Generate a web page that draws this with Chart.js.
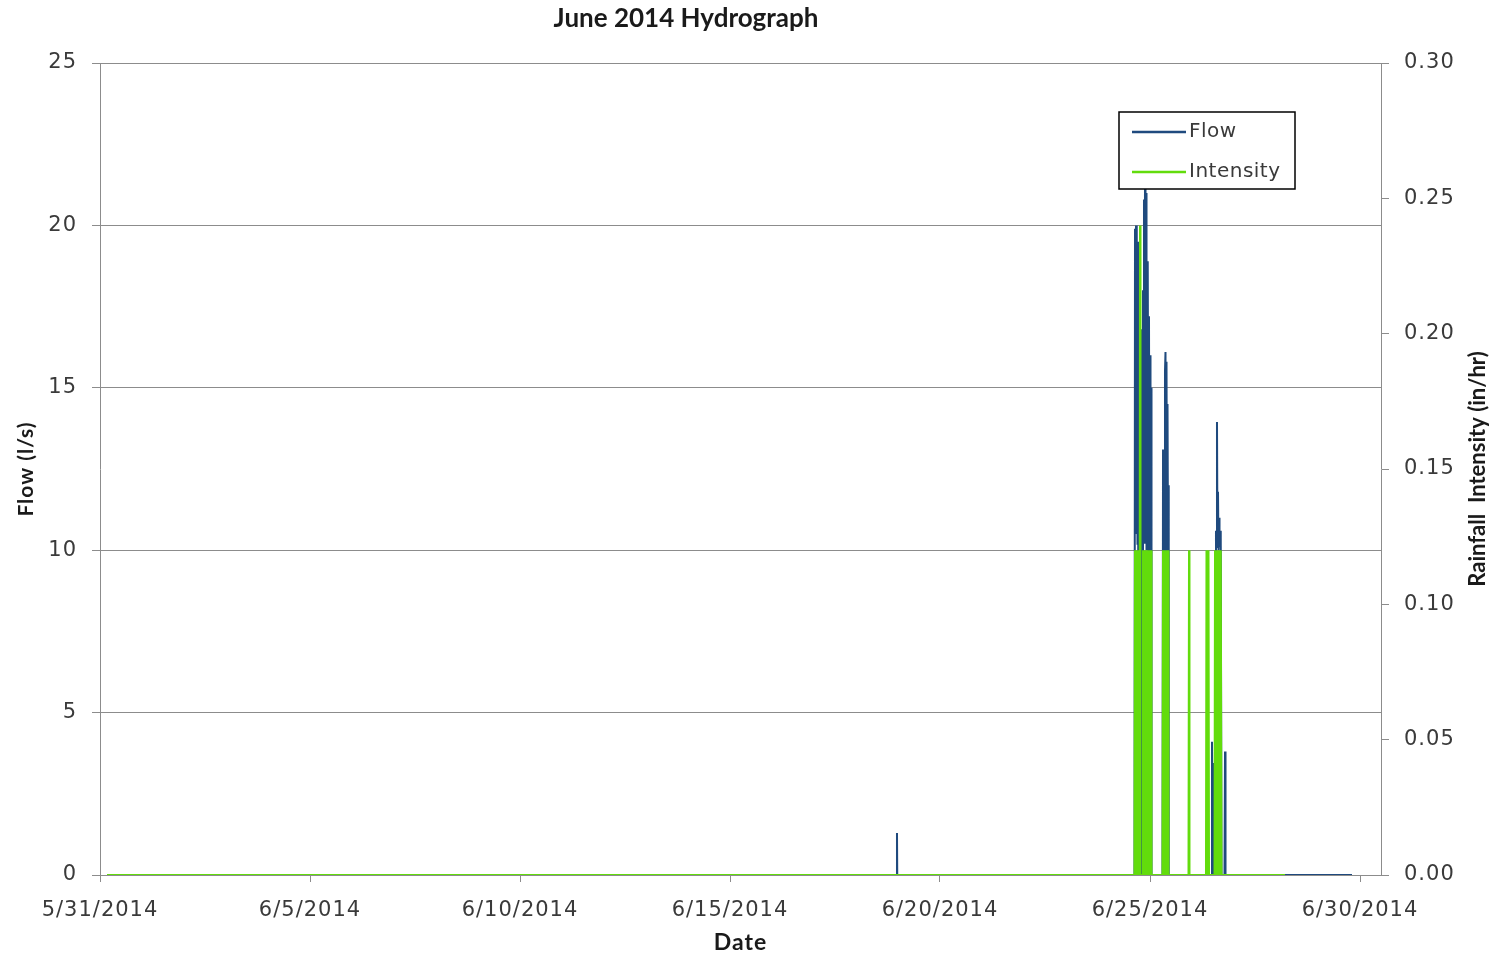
<!DOCTYPE html>
<html>
<head>
<meta charset="utf-8">
<title>June 2014 Hydrograph</title>
<script src="https://cdn.jsdelivr.net/npm/chart.js@4.4.1/dist/chart.umd.min.js"></script>
<style>
  html, body { margin: 0; padding: 0; background: #ffffff; }
  #wrap { width: 1494px; height: 956px; position: relative; }
</style>
</head>
<body>
<div id="wrap"><canvas id="hydro"></canvas></div>
<script>
// Date axis labels, one every five days starting 5/31/2014
const tickLabels = ['5/31/2014', '6/5/2014', '6/10/2014', '6/15/2014', '6/20/2014', '6/25/2014', '6/30/2014'];

// Flow record: time in days after 5/31/2014 00:00, flow in l/s
const flowDays = [
  0.167,
  18.970, 18.976, 18.982,
  24.631, 24.643, 24.655, 24.667, 24.679, 24.690, 24.702, 24.714, 24.726,
  24.774, 24.786, 24.798,
  24.821, 24.833, 24.845, 24.857, 24.869, 24.881, 24.893, 24.905, 24.917, 24.929,
  24.940, 24.952, 24.964, 24.976, 24.988, 25.000, 25.012, 25.024, 25.036,
  25.298, 25.310, 25.321, 25.333, 25.345, 25.357, 25.369, 25.381, 25.393, 25.405,
  25.417, 25.429, 25.440, 25.452,
  26.464, 26.476, 26.488, 26.500, 26.512,
  26.560, 26.571, 26.583, 26.595, 26.607, 26.619, 26.631, 26.643, 26.655, 26.667,
  26.679, 26.690, 26.702,
  26.774, 26.786, 26.798,
  29.810
];
const flowLps = [
  0,
  0, 1.29, 0,
  0, 19.9, 11.0, 20.0, 10.5, 19.8, 10.2, 19.5, 0,
  0, 16.8, 0,
  0, 18.0, 10.5, 20.8, 10.2, 21.4, 10.5, 21.0, 10.0, 18.6,
  10.2, 18.9, 10.0, 17.2, 10.1, 16.0, 10.0, 15.0, 0,
  0, 13.1, 10.0, 12.8, 10.0, 15.5, 16.1, 10.2, 15.8, 10.0,
  14.5, 10.0, 12.0, 0,
  0, 4.1, 0.4, 3.45, 0,
  0, 10.6, 10.2, 13.95, 10.1, 11.8, 10.0, 11.0, 10.1, 10.6,
  10.0, 10.4, 0,
  0, 3.8, 0,
  0
];

// Rainfall record: time in days after 5/31/2014 00:00, intensity in in/hr
const intensityDays = [
  0.167,
  24.631, 24.643, 24.655, 24.667, 24.679, 24.690, 24.702, 24.714, 24.726, 24.738,
  24.750, 24.762, 24.774,
  24.821, 24.833, 24.845, 24.857, 24.869, 24.881, 24.893, 24.905, 24.917, 24.929,
  24.940, 24.952, 24.964, 24.976, 24.988, 25.000, 25.012, 25.024, 25.036,
  25.298, 25.310, 25.321, 25.333, 25.345, 25.357, 25.369, 25.381, 25.393, 25.405,
  25.417, 25.429, 25.440,
  25.917, 25.929, 25.940,
  26.333, 26.345, 26.357, 26.369, 26.381, 26.393, 26.405,
  26.536, 26.548, 26.560, 26.571, 26.583, 26.595, 26.607, 26.619, 26.631, 26.643,
  26.655, 26.667, 26.679, 26.690, 26.702,
  28.214
];
const intensityInHr = [
  0,
  0, 0.12, 0, 0.12, 0, 0.12, 0, 0.12, 0, 0.12,
  0, 0.24, 0,
  0, 0.12, 0, 0.12, 0, 0.12, 0, 0.12, 0, 0.12,
  0, 0.12, 0, 0.12, 0, 0.12, 0, 0.12, 0,
  0, 0.12, 0, 0.12, 0, 0.12, 0, 0.12, 0, 0.12,
  0, 0.12, 0,
  0, 0.12, 0,
  0, 0.12, 0, 0.12, 0, 0.12, 0,
  0, 0.12, 0, 0.12, 0, 0.12, 0, 0.12, 0, 0.12,
  0, 0.12, 0, 0.12, 0,
  0
];

const FLOW_COLOR = '#1f4a7e';
const RAIN_COLOR = '#62dc0c';
const GRID_COLOR = '#8c8c8c';
const TEXT_COLOR = '#3a3a3a';
const HEAD_COLOR = '#1a1a1a';
const TITLE_FONT = "Lato, 'Liberation Sans', sans-serif";

const toPoints = (xs, ys) => xs.map((x, i) => ({ x: x, y: ys[i] }));

Chart.defaults.font.family = "'DejaVu Sans', Verdana, sans-serif";
Chart.defaults.font.size = 21;
Chart.defaults.color = TEXT_COLOR;

// Slightly open tracking for the tick numbers
const trackingPlugin = {
  id: 'tracking',
  beforeDraw(chart) { chart.ctx.letterSpacing = '1px'; },
  afterDraw(chart) { chart.ctx.letterSpacing = '0px'; }
};

// Chart heading and the right-hand axis title (reads bottom to top)
const headingPlugin = {
  id: 'heading',
  afterDraw(chart) {
    const ctx = chart.ctx;
    const area = chart.chartArea;
    ctx.save();
    ctx.letterSpacing = '0px';
    ctx.font = 'bold 26px ' + TITLE_FONT;
    ctx.fillStyle = HEAD_COLOR;
    ctx.textAlign = 'center';
    ctx.textBaseline = 'middle';
    ctx.fillText('June 2014 Hydrograph', area.left + 586, 19);

    ctx.translate(chart.width - 16, (area.top + area.bottom) / 2);
    ctx.rotate(-Math.PI / 2);
    ctx.font = 'bold 22px ' + TITLE_FONT;
    ctx.fillText('Rainfall  Intensity (in/hr)', 0, 0);
    ctx.restore();
  }
};

// Boxed legend sitting inside the plot, over the data
const boxLegendPlugin = {
  id: 'boxLegend',
  afterDatasetsDraw(chart) {
    const ctx = chart.ctx;
    const area = chart.chartArea;
    const bx = area.left + 1019, by = area.top + 49, bw = 176, bh = 77;
    ctx.save();
    ctx.fillStyle = '#ffffff';
    ctx.fillRect(bx, by, bw, bh);
    ctx.strokeStyle = '#000000';
    ctx.lineWidth = 1.5;
    ctx.strokeRect(bx, by, bw, bh);
    ctx.font = "20px 'DejaVu Sans', Verdana, sans-serif";
    ctx.letterSpacing = '0.5px';
    ctx.textBaseline = 'middle';
    ctx.textAlign = 'left';
    [0, 1].forEach((di, row) => {
      const ds = chart.data.datasets[di];
      const y = by + 20 + row * 40;
      ctx.strokeStyle = ds.borderColor;
      ctx.lineWidth = 2.5;
      ctx.beginPath();
      ctx.moveTo(bx + 13, y);
      ctx.lineTo(bx + 67, y);
      ctx.stroke();
      ctx.fillStyle = TEXT_COLOR;
      ctx.fillText(ds.label, bx + 70, y);
    });
    ctx.restore();
  }
};

new Chart(document.getElementById('hydro'), {
  type: 'line',
  data: {
    datasets: [
      {
        label: 'Flow',
        data: toPoints(flowDays, flowLps),
        yAxisID: 'y',
        borderColor: FLOW_COLOR,
        backgroundColor: FLOW_COLOR,
        borderWidth: 2,
        pointRadius: 0,
        tension: 0,
        order: 2
      },
      {
        label: 'Intensity',
        data: toPoints(intensityDays, intensityInHr),
        yAxisID: 'y1',
        borderColor: RAIN_COLOR,
        backgroundColor: RAIN_COLOR,
        borderWidth: 2,
        pointRadius: 0,
        tension: 0,
        order: 1
      }
    ]
  },
  options: {
    responsive: true,
    maintainAspectRatio: false,
    animation: false,
    events: [],
    layout: { padding: { top: 63, right: 0, bottom: 0, left: 0 } },
    plugins: {
      legend: { display: false },
      title: { display: false },
      tooltip: { enabled: false }
    },
    scales: {
      x: {
        type: 'linear',
        min: 0,
        max: 30.5,
        afterFit(scale) { scale.height = 81; },
        ticks: {
          stepSize: 5,
          includeBounds: false,
          autoSkip: false,
          maxRotation: 0,
          padding: 16,
          callback: (v) => (Number.isInteger(v / 5) ? tickLabels[v / 5] : '')
        },
        grid: { display: true, drawOnChartArea: false, drawTicks: true, tickLength: 7, color: GRID_COLOR },
        border: { display: true, color: GRID_COLOR, width: 1 },
        title: {
          display: true,
          text: 'Date',
          color: HEAD_COLOR,
          font: { family: TITLE_FONT, weight: 'bold', size: 23 },
          padding: { top: 0, bottom: 0 }
        }
      },
      y: {
        position: 'left',
        min: 0,
        max: 25,
        afterFit(scale) { scale.width = 100; },
        ticks: { stepSize: 5, padding: 15 },
        grid: { color: GRID_COLOR, lineWidth: 1, drawTicks: true, tickLength: 8 },
        border: { display: true, color: GRID_COLOR, width: 1 },
        title: {
          display: true,
          text: 'Flow (l/s)',
          color: HEAD_COLOR,
          font: { family: TITLE_FONT, weight: 'bold', size: 21 },
          padding: { top: 14, bottom: 0 }
        }
      },
      y1: {
        position: 'right',
        min: 0,
        max: 0.3,
        afterFit(scale) { scale.width = 113; },
        ticks: { stepSize: 0.05, padding: 15, callback: (v) => Number(v).toFixed(2) },
        grid: { drawOnChartArea: false, drawTicks: true, tickLength: 8, color: GRID_COLOR },
        border: { display: true, color: GRID_COLOR, width: 1 },
        title: { display: false }
      }
    }
  },
  plugins: [trackingPlugin, headingPlugin, boxLegendPlugin]
});
</script>
</body>
</html>
